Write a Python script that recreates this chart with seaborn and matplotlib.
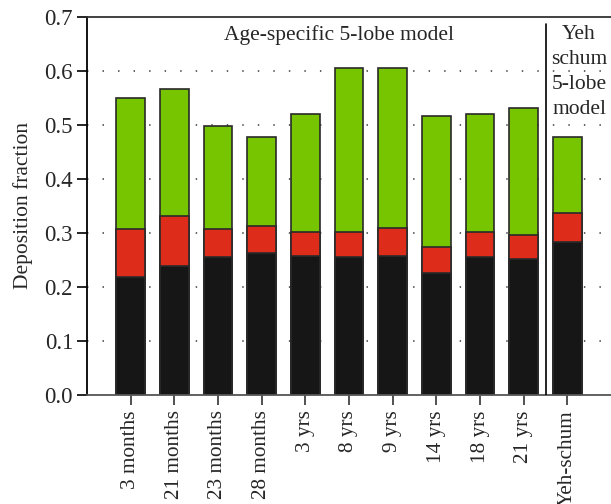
import matplotlib
matplotlib.use("Agg")
import matplotlib.pyplot as plt
import seaborn as sns
import numpy as np
import pandas as pd

categories = ["3 months", "21 months", "23 months", "28 months", "3 yrs", "8 yrs",
              "9 yrs", "14 yrs", "18 yrs", "21 yrs", "Yeh-schum"]
black_vals = [0.218, 0.239, 0.255, 0.263, 0.258, 0.255, 0.257, 0.225, 0.255, 0.252, 0.284]
red_vals = [0.089, 0.092, 0.052, 0.049, 0.044, 0.047, 0.052, 0.049, 0.046, 0.044, 0.052]
green_vals = [0.242, 0.236, 0.191, 0.166, 0.218, 0.303, 0.296, 0.242, 0.219, 0.235, 0.142]
yticks = [0.0, 0.1, 0.2, 0.3, 0.4, 0.5, 0.6, 0.7]

sns.set_theme(style="white")
plt.rcParams["font.family"] = ["Liberation Serif", "DejaVu Serif"]

df = pd.DataFrame({"cat": categories, "black": black_vals, "red": red_vals, "green": green_vals})
df["c1"] = df["black"]
df["c2"] = df["black"] + df["red"]
df["c3"] = df["c2"] + df["green"]

fig = plt.figure(figsize=(6.11, 5.04), dpi=100)
ax = fig.add_axes([87 / 611, 1 - 395 / 504, 1 - 87 / 611, (395 - 16.7) / 504])

edge = "#2a2a2a"
for col, color in [("c3", "#76c500"), ("c2", "#dd2c1a"), ("c1", "#161616")]:
    sns.barplot(data=df, x="cat", y=col, color=color, saturation=1, width=0.65,
                edgecolor=edge, linewidth=1.2, ax=ax, zorder=2)

ax.set_xlim(-1.0, 11.0)
ax.set_ylim(0, 0.7)
ax.set_yticks(yticks)
ax.set_yticklabels([f"{v:.1f}" for v in yticks], fontsize=16.5)
ax.set_xticks(range(len(categories)))
ax.set_xticklabels(categories, rotation=90, fontsize=15.3)
ax.set_xlabel("")
ax.set_ylabel("Deposition fraction", fontsize=15.5, labelpad=8)

for v in yticks[1:-1]:
    ax.axhline(v, color="#555555", linestyle=(0, (0.8, 7.8)), linewidth=1.3, zorder=1)

ax.plot([9.5, 9.5], [0, (395 - 24) / 540.4], color="black", linewidth=1.2, zorder=3)

ax.text(4.78, 0.666, "Age-specific 5-lobe model", ha="center", va="center", fontsize=15.5)
ax.text(10.27, 0.684, "Yeh\nschum\n5-lobe\nmodel", ha="center", va="top", fontsize=15.5,
        linespacing=1.42)

ax.spines["right"].set_visible(False)
ax.spines["left"].set_color("black")
ax.spines["left"].set_linewidth(1.3)
ax.spines["top"].set_color("#333333")
ax.spines["top"].set_linewidth(1.3)
ax.spines["bottom"].set_color("#555555")
ax.spines["bottom"].set_linewidth(1.3)

ax.tick_params(axis="y", direction="out", length=7, width=1.2, color="black", left=True, pad=3)
ax.tick_params(axis="x", direction="out", length=7, width=1.2, color="#333333", bottom=True, pad=4)

fig.savefig("out.png", dpi=100)
